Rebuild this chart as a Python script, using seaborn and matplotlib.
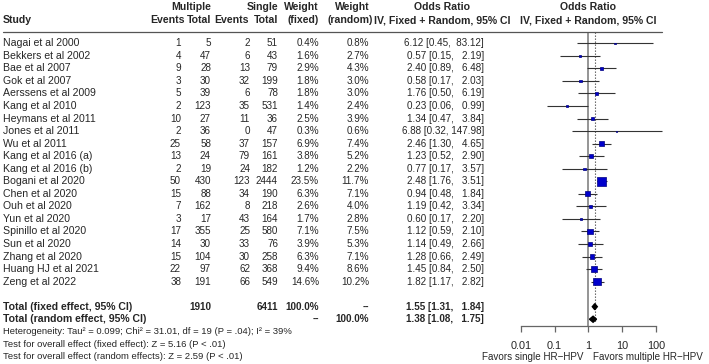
import numpy as np
import pandas as pd
import seaborn as sns
import matplotlib
matplotlib.use("Agg")
from matplotlib import pyplot as plt
from matplotlib import transforms
from matplotlib.lines import Line2D

# podaci iz tablice
studies = ["Nagai et al 2000", "Bekkers et al 2002", "Bae et al 2007", "Gok et al 2007",
           "Aerssens et al 2009", "Kang et al 2010", "Heymans et al 2011", "Jones et al 2011",
           "Wu et al 2011", "Kang et al 2016 (a)", "Kang et al 2016 (b)", "Bogani et al 2020",
           "Chen et al 2020", "Ouh et al 2020", "Yun et al 2020", "Spinillo et al 2020",
           "Sun et al 2020", "Zhang et al 2020", "Huang HJ et al 2021", "Zeng et al 2022"]
mult_events = [1, 4, 9, 3, 5, 2, 10, 2, 25, 13, 2, 50, 15, 7, 3, 17, 14, 15, 22, 38]
mult_total = [5, 47, 28, 30, 39, 123, 27, 36, 58, 24, 19, 430, 88, 162, 17, 355, 30, 104, 97, 191]
single_events = [2, 6, 13, 32, 6, 35, 11, 0, 37, 79, 24, 123, 34, 8, 43, 25, 33, 30, 62, 66]
single_total = [51, 43, 79, 199, 78, 531, 36, 47, 157, 161, 182, 2444, 190, 218, 164, 580, 76, 258, 368, 549]
w_fixed = [0.4, 1.6, 2.9, 1.8, 1.8, 1.4, 2.5, 0.3, 6.9, 3.8, 1.2, 23.5, 6.3, 2.6, 1.7, 7.1, 3.9, 6.3, 9.4, 14.6]
w_random = [0.8, 2.7, 4.3, 3.0, 3.0, 2.4, 3.9, 0.6, 7.4, 5.2, 2.2, 11.7, 7.1, 4.0, 2.8, 7.5, 5.3, 7.1, 8.6, 10.2]
or_est = [6.12, 0.57, 2.40, 0.58, 1.76, 0.23, 1.34, 6.88, 2.46, 1.23, 0.77, 2.48, 0.94, 1.19, 0.60,
          1.12, 1.14, 1.28, 1.45, 1.82]
or_low = [0.45, 0.15, 0.89, 0.17, 0.50, 0.06, 0.47, 0.32, 1.30, 0.52, 0.17, 1.76, 0.48, 0.42, 0.17,
          0.59, 0.49, 0.66, 0.84, 1.17]
or_high = [83.12, 2.19, 6.48, 2.03, 6.19, 0.99, 3.84, 147.98, 4.65, 2.90, 3.57, 3.51, 1.84, 3.34, 2.20,
           2.10, 2.66, 2.49, 2.50, 2.82]

# ukupni efekti
pooled_labels = ["Total (fixed effect, 95% CI)", "Total (random effect, 95% CI)"]
pooled_est = [1.55, 1.38]
pooled_low = [1.31, 1.08]
pooled_high = [1.84, 1.75]
total_mult = 1910
total_single = 6411

stats_lines = [
    "Heterogeneity: Tau\u00b2 = 0.099; Chi\u00b2 = 31.01, df = 19 (P = .04); I\u00b2 = 39%",
    "Test for overall effect (fixed effect): Z = 5.16 (P < .01)",
    "Test for overall effect (random effects): Z = 2.59 (P < .01)",
]
x_ticks = [0.01, 0.1, 1, 10, 100]
x_ticklabels = ["0.01", "0.1", "1", "10", "100"]

df = pd.DataFrame({"study": studies, "or_est": or_est, "or_low": or_low,
                   "or_high": or_high, "w_fixed": w_fixed})
df["row"] = np.arange(len(df))
n = len(df)
row_fixed = n + 1
row_random = n + 2

sns.set_style("white")
plt.rcParams["font.family"] = ["Liberation Sans", "DejaVu Sans"]
fs_name = 7.6
fs_num = 7.1
fs_small = 6.8

W, H = 709, 364
fig = plt.figure(figsize=(W / 100, H / 100), dpi=100)
# os u pikselima: 0.01 -> 520.7, 100 -> 656, linija zaglavlja 31.6, os 326
ax = fig.add_axes([520.7 / W, 1 - 326 / H, (656 - 520.7) / W, (326 - 31.6) / H])
ax.set_facecolor("none")
ax.set_xscale("log")
ax.set_xlim(0.01, 100)
ax.set_ylim(22.54, -0.933)

# linija na 1 i isprekidana za fixed efekt
ax.axvline(1, color="#8c8c8c", lw=1.3, zorder=1)
ax.vlines(pooled_est[0], -0.933, 22.2, colors="#555555", linestyles=(0, (1.2, 1.5)), lw=0.8, zorder=1)

# intervali pouzdanosti
ax.hlines(df["row"], df["or_low"], df["or_high"], colors="#333333", lw=0.8, zorder=2, clip_on=False)

# kvadrati (povrsina ~ tezina)
sns.scatterplot(data=df, x="or_est", y="row", size="w_fixed", sizes=(0, 46.8), size_norm=(0, 23.5),
                marker="s", color="#0000cc", edgecolor="#000080", linewidth=0.5, legend=False,
                ax=ax, zorder=3, clip_on=False)

# rombovi za ukupne efekte
for r, est, lo, hi in zip([row_fixed, row_random], pooled_est, pooled_low, pooled_high):
    ax.fill([lo, est, hi, est], [r, r - 0.24, r, r + 0.24], color="black", zorder=3, clip_on=False)

for s in ["top", "right", "left"]:
    ax.spines[s].set_visible(False)
ax.spines["bottom"].set_color("#666666")
ax.spines["bottom"].set_linewidth(0.9)
ax.spines["bottom"].set_bounds(0.01, 100)
ax.minorticks_off()
ax.set_xticks(x_ticks)
ax.set_xticklabels(x_ticklabels, fontsize=7.8)
ax.tick_params(axis="x", length=4, width=0.9, color="#666666", pad=7, bottom=True)
ax.set_yticks([])
ax.set_xlabel("")
ax.set_ylabel("")

ax.text(0.713, 25, "Favors single HR\u2212HPV", ha="right", va="center", fontsize=fs_num, clip_on=False)
ax.text(1.40, 25, "Favors multiple HR\u2212HPV", ha="left", va="center", fontsize=fs_num, clip_on=False)

# tablica lijevo, x u pikselima, y u redovima osi
tr = transforms.blended_transform_factory(fig.transFigure, ax.transData)


def put(px, row, s, ha="right", bold=False, size=fs_num):
    fig.text(px / W, row, s, ha=ha, va="center", fontsize=size, transform=tr,
             fontweight="bold" if bold else "normal")


def ci_text(est, lo, hi):
    return "%.2f [%.2f, %6.2f]" % (est, lo, hi)


h1, h2 = -2.87, -1.83
put(3, h2, "Study", ha="left", bold=True, size=fs_name)
put(211, h1, "Multiple", bold=True, size=fs_name)
put(278, h1, "Single", bold=True, size=fs_name)
put(185, h2, "Events", bold=True, size=fs_name)
put(211, h2, "Total", bold=True, size=fs_name)
put(249, h2, "Events", bold=True, size=fs_name)
put(278, h2, "Total", bold=True, size=fs_name)
put(319, h1, "Weight", bold=True, size=fs_name)
put(319, h2, "(fixed)", bold=True, size=fs_name)
put(370, h1, "Weight", bold=True, size=fs_name)
put(373, h2, "(random)", bold=True, size=fs_name)
put(442, h1, "Odds Ratio", ha="center", bold=True, size=fs_name)
put(442, h2, "IV, Fixed + Random, 95% CI", ha="center", bold=True, size=fs_name)
put(588, h1, "Odds Ratio", ha="center", bold=True, size=fs_name)
put(588, h2, "IV, Fixed + Random, 95% CI", ha="center", bold=True, size=fs_name)

fig.add_artist(Line2D([3 / W, 662 / W], [1 - 31.6 / H, 1 - 31.6 / H], color="#555555", lw=0.9))

for i in range(n):
    put(3, i, studies[i], ha="left", size=fs_name)
    put(181, i, str(mult_events[i]))
    put(211, i, str(mult_total[i]))
    put(250, i, str(single_events[i]))
    put(278, i, str(single_total[i]))
    put(319, i, "%.1f%%" % w_fixed[i])
    put(369, i, "%.1f%%" % w_random[i])
    put(484, i, ci_text(or_est[i], or_low[i], or_high[i]))

put(3, row_fixed, pooled_labels[0], ha="left", bold=True, size=fs_name)
put(211, row_fixed, str(total_mult), bold=True)
put(278, row_fixed, str(total_single), bold=True)
put(319, row_fixed, "100.0%", bold=True)
put(369, row_fixed, "--", bold=True)
put(3, row_random, pooled_labels[1], ha="left", bold=True, size=fs_name)
put(319, row_random, "--", bold=True)
put(369, row_random, "100.0%", bold=True)
for r, est, lo, hi in zip([row_fixed, row_random], pooled_est, pooled_low, pooled_high):
    put(484, r, ci_text(est, lo, hi), bold=True)

for j, line in enumerate(stats_lines):
    put(3, row_random + 1 + j, line, ha="left", size=fs_small)

fig.savefig("out.png", dpi=100)
